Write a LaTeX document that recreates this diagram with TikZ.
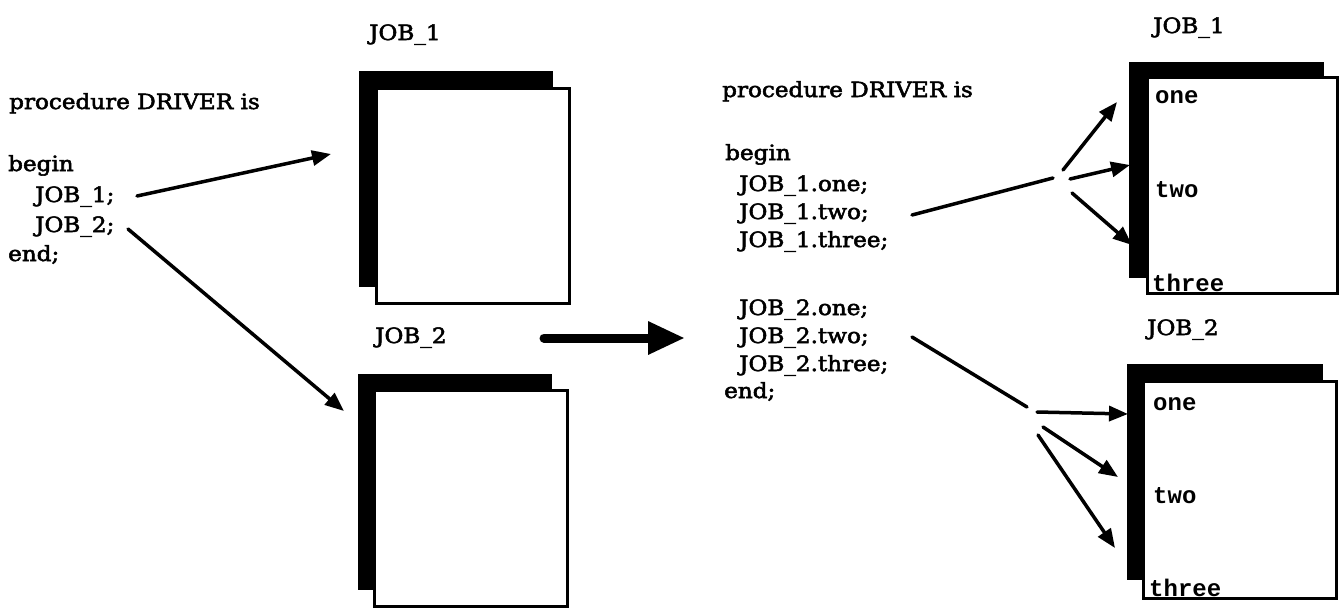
\documentclass[tikz,border=0pt]{standalone}
\usepackage{fontspec}
\setmainfont{DejaVu Serif}
\newfontfamily\bodyfont{DejaVu Serif}[FakeStretch=1.1,FakeBold=2.5]
\newfontfamily\slabfont{Liberation Mono}[UprightFont={* Bold}]
\usetikzlibrary{arrows.meta}

\begin{document}
\begin{tikzpicture}[x=1pt,y=-1pt,
  txt/.style={anchor=base west, inner sep=0pt, font=\bodyfont\fontsize{21}{25}\selectfont},
  part/.style={anchor=base west, inner sep=0pt, font=\slabfont\fontsize{24}{26}\selectfont},
  shadowbox/.style={anchor=north west, fill=black, inner sep=0pt,
    minimum width=194pt, minimum height=216pt},
  pagebox/.style={anchor=north west, fill=white, draw=black, line width=2.8pt,
    inner sep=0pt, minimum width=193pt, minimum height=215pt},
  link/.style={line width=3.5pt, line cap=round},
  call/.style={link, -{Triangle[length=19pt,width=15pt]}},
  bigarrow/.style={line width=9pt, line cap=round, -{Triangle[length=37pt,width=31pt]}},
]
\useasboundingbox (0,0) rectangle (1340,608);
\fill[white] (0,0) rectangle (1340,608);

% ---------------- left: the driver calling two jobs ----------------
\node[txt] (lproc)  at (9,109)  {procedure DRIVER is};
\node[txt] (lbegin) at (8,171)  {begin};
\node[txt] (lj1)    at (35,202) {JOB\_1;};
\node[txt] (lj2)    at (35,232) {JOB\_2;};
\node[txt] (lend)   at (8,261)  {end;};

\node[txt] (lab1) at (369,40)  {JOB\_1};
\node[shadowbox] (s1) at (359,71) {};
\node[pagebox]   (p1) at (375,87) {};

\node[txt] (lab2) at (375,343) {JOB\_2};
\node[shadowbox] (s2) at (358,374) {};
\node[pagebox, minimum height=216pt] (p2) at (373,389) {};

\coordinate (a1s) at (137,196);
\coordinate (a1e) at (331,154);
\coordinate (a2s) at (128,229);
\coordinate (a2e) at (344,411);
\draw[call] (a1s) -- (a1e);
\draw[call] (a2s) -- (a2e);

% ---------------- transformation arrow ----------------
\coordinate (bigs) at (544,338);
\coordinate (bige) at (685,338);
\draw[bigarrow] (bigs) -- (bige);

% ---------------- right: the driver calling job entries ----------------
\node[txt] (mproc)  at (722,97)  {procedure DRIVER is};
\node[txt] (mbegin) at (725,160) {begin};
\node[txt] (m11) at (739,191) {JOB\_1.one;};
\node[txt] (m12) at (739,219) {JOB\_1.two;};
\node[txt] (m13) at (739,247) {JOB\_1.three;};
\node[txt] (m21) at (739,315) {JOB\_2.one;};
\node[txt] (m22) at (739,343) {JOB\_2.two;};
\node[txt] (m23) at (739,371) {JOB\_2.three;};
\node[txt] (mend) at (724,398) {end;};

\node[txt] (rlab1) at (1153,33) {JOB\_1};
\node[shadowbox, minimum width=195pt] (rs1) at (1129,62) {};
\node[pagebox, minimum width=190pt, minimum height=216pt] (rp1) at (1146,76) {};
\node[part] (r1one)   at (1155,103) {one};
\node[part] (r1two)   at (1155,197) {two};
\node[part] (r1three) at (1152,291) {three};

\node[txt] (rlab2) at (1147,335) {JOB\_2};
\node[shadowbox, minimum width=196pt] (rs2) at (1127,364) {};
\node[pagebox, minimum width=193pt, minimum height=217pt] (rp2) at (1142,380) {};
\node[part] (r2one)   at (1153,410) {one};
\node[part] (r2two)   at (1153,503) {two};
\node[part] (r2three) at (1149,596) {three};

% fan-out from JOB_1 calls to its entries
\coordinate (h1s) at (912,215);
\coordinate (h1e) at (1053,178);
\draw[link] (h1s) -- (h1e);
\coordinate (h1a) at (1063,170);
\coordinate (h1b) at (1070,179);
\coordinate (h1c) at (1072,193);
\coordinate (t1a) at (1117,102);
\coordinate (t1b) at (1130,165);
\coordinate (t1c) at (1132,245);
\draw[call] (h1a) -- (t1a);
\draw[call] (h1b) -- (t1b);
\draw[call] (h1c) -- (t1c);

% fan-out from JOB_2 calls to its entries
\coordinate (h2s) at (912,337);
\coordinate (h2e) at (1027,407);
\draw[link] (h2s) -- (h2e);
\coordinate (h2a) at (1037,412);
\coordinate (h2b) at (1043,427);
\coordinate (h2c) at (1038,435);
\coordinate (t2a) at (1128,414);
\coordinate (t2b) at (1118,477);
\coordinate (t2c) at (1115,548);
\draw[call] (h2a) -- (t2a);
\draw[call] (h2b) -- (t2b);
\draw[call] (h2c) -- (t2c);
\end{tikzpicture}
\end{document}
